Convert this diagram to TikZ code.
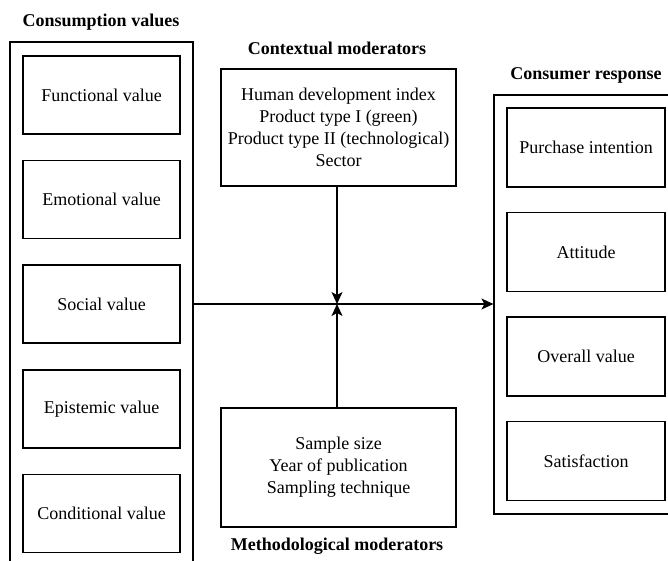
\documentclass[tikz,border=0pt]{standalone}
\usepackage{fontspec}
\setmainfont{Liberation Serif}
\usetikzlibrary{arrows.meta}
\begin{document}
\begin{tikzpicture}[x=1pt,y=-1pt,
  every node/.style={font=\fontsize{18}{22}\selectfont},
  box/.style={draw, line width=1.2pt, inner sep=0pt, align=center},
  lbox/.style={box, minimum width=157pt, minimum height=78pt},
  rbox/.style={box, minimum width=158pt, minimum height=79pt},
  modbox/.style={box, minimum width=235pt},
  outer/.style={draw, line width=1.2pt, inner sep=0pt},
  title/.style={font=\fontsize{18}{22}\selectfont\bfseries},
  arr/.style={line width=1.2pt, -{Stealth[length=12pt,width=11pt,inset=3pt]}}
]
\useasboundingbox (0,0) rectangle (668,560);
\clip (0,0) rectangle (668,560);
% outer boxes
\node[outer, minimum width=183pt, minimum height=540pt] (cvbox) at (101.5,312) {};
\node[outer, minimum width=200pt, minimum height=419pt] (crbox) at (594,304.5) {};
% titles
\node[title] (tcv) at (101,22) {Consumption values};
\node[title] (tctx) at (337,48) {Contextual moderators};
\node[title] (tcr) at (586,75) {Consumer response};
\node[title] (tmeth) at (337,546) {Methodological moderators};
% left inner boxes
\node[lbox] (fv) at (101.5,95) {Functional value};
\node[lbox] (ev) at (101.5,199.5) {Emotional value};
\node[lbox] (sv) at (101.5,304) {Social value};
\node[lbox] (epv) at (101.5,409) {Epistemic value};
\node[lbox] (cdv) at (101.5,513.5) {Conditional value};
% right inner boxes
\node[rbox] (pi) at (586,147.5) {Purchase intention};
\node[rbox] (att) at (586,252) {Attitude};
\node[rbox] (ov) at (586,356.5) {Overall value};
\node[rbox] (sat) at (586,461) {Satisfaction};
% moderators
\node[modbox, minimum height=117pt] (ctx) at (338.5,127.5)
  {Human development index\\Product type I (green)\\Product type II (technological)\\Sector};
\node[modbox, minimum height=119pt] (meth) at (338.5,467.5)
  {Sample size\\Year of publication\\Sampling technique};
% connectors
\coordinate (j) at (337,304);
\draw[arr] (cvbox.east |- j) -- (crbox.west |- j);
\draw[arr] (ctx.south -| j) -- (j);
\draw[arr] (meth.north -| j) -- (j);
\end{tikzpicture}
\end{document}
